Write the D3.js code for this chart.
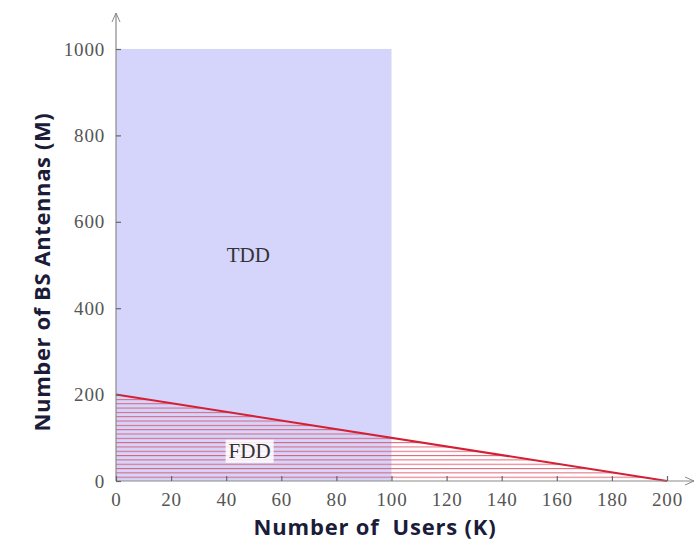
<!DOCTYPE html>
<html>
<head>
<meta charset="utf-8">
<script src="https://cdn.jsdelivr.net/npm/d3@7"></script>
<style>
  html, body { margin: 0; padding: 0; background: #fff; }
  svg { display: block; }
</style>
</head>
<body>
<svg id="chart" width="699" height="548"></svg>
<script>
// ---- data ----
const xTicks = [0, 20, 40, 60, 80, 100, 120, 140, 160, 180, 200];
const yTicks = [0, 200, 400, 600, 800, 1000];
const tddRegion = [{x: 0, y: 0}, {x: 100, y: 0}, {x: 100, y: 1000}, {x: 0, y: 1000}];
const boundary = [{x: 0, y: 200}, {x: 200, y: 0}];
const fddRegion = [{x: 0, y: 0}, {x: 0, y: 200}, {x: 200, y: 0}];
const regionLabels = [{text: "TDD", x: 48, y: 522}, {text: "FDD", x: 48.5, y: 70}];
const xTitle = "Number of  Users (K)";
const yTitle = "Number of BS Antennas (M)";

// ---- layout ----
const svg = d3.select("#chart");
const x = d3.scaleLinear().domain([0, 200]).range([116, 667]);
const y = d3.scaleLinear().domain([0, 1000]).range([481, 49]);

const defs = svg.append("defs");
const pat = defs.append("pattern")
  .attr("id", "hatch").attr("patternUnits", "userSpaceOnUse")
  .attr("width", 10).attr("height", 4.32).attr("y", y(0));
pat.append("line").attr("x1", 0).attr("x2", 10).attr("y1", 0.5).attr("y2", 0.5)
  .attr("stroke", "#d9475e").attr("stroke-opacity", 0.8).attr("stroke-width", 1.1);
defs.append("marker").attr("id", "arrow").attr("viewBox", "0 0 10 10")
  .attr("refX", 9).attr("refY", 5).attr("markerWidth", 10).attr("markerHeight", 10)
  .attr("markerUnits", "userSpaceOnUse").attr("orient", "auto")
  .append("path").attr("d", "M0,1 L9,5 L0,9").attr("fill", "none")
  .attr("stroke", "#888").attr("stroke-width", 1);

const area = d3.line().x(d => x(d.x)).y(d => y(d.y)).curve(d3.curveLinearClosed);
const line = d3.line().x(d => x(d.x)).y(d => y(d.y));

// TDD region
svg.append("path").datum(tddRegion).attr("d", area).attr("fill", "#d5d5fb");
// FDD hatched region
svg.append("path").datum(fddRegion).attr("d", area).attr("fill", "url(#hatch)");
// boundary
svg.append("path").datum(boundary).attr("d", line)
  .attr("fill", "none").attr("stroke", "#d42035").attr("stroke-width", 2);

// axes
const axisColor = "#8a8a8a";
svg.append("line").attr("x1", x(0)).attr("x2", x(0)).attr("y1", y(0)).attr("y2", 13)
  .attr("stroke", axisColor).attr("stroke-width", 1.2).attr("marker-end", "url(#arrow)");
svg.append("line").attr("x1", x(0)).attr("x2", 694).attr("y1", y(0)).attr("y2", y(0))
  .attr("stroke", axisColor).attr("stroke-width", 1.2).attr("marker-end", "url(#arrow)");

const tickFont = g => g.selectAll(".tick text").attr("fill", "#555")
  .attr("font-family", "Liberation Serif, serif").attr("font-size", 19).attr("letter-spacing", 0.8);

const xAxis = d3.axisBottom(x).tickValues(xTicks).tickSize(-5).tickPadding(12).tickFormat(d3.format("d"));
const gx = svg.append("g").attr("transform", `translate(0,${y(0)})`).call(xAxis);
gx.select(".domain").remove();
gx.selectAll(".tick line").attr("stroke", "#666").attr("stroke-width", 1.2);
gx.call(tickFont);

const yAxis = d3.axisLeft(y).tickValues(yTicks).tickSize(-5).tickPadding(11).tickFormat(d3.format("d"));
const gy = svg.append("g").attr("transform", `translate(${x(0)},0)`).call(yAxis);
gy.select(".domain").remove();
gy.selectAll(".tick line").attr("stroke", "#666").attr("stroke-width", 1.2);
gy.call(tickFont);

// region labels
regionLabels.forEach(l => {
  const cx = x(l.x), cy = y(l.y);
  if (l.text === "FDD") {
    svg.append("rect").attr("x", cx - 24).attr("y", cy - 11).attr("width", 48).attr("height", 23)
      .attr("fill", "#fff").attr("fill-opacity", 0.85);
  }
  svg.append("text").attr("x", cx).attr("y", cy).attr("text-anchor", "middle")
    .attr("dominant-baseline", "central").attr("font-family", "Liberation Serif, serif")
    .attr("font-size", 21).attr("fill", "#333").text(l.text);
});

// axis titles
svg.append("text").attr("x", 375).attr("y", 535).attr("text-anchor", "middle")
  .attr("font-family", "Open Sans, sans-serif").attr("font-weight", "bold")
  .attr("font-size", 22).attr("letter-spacing", 0.8).attr("fill", "#1b1b3a")
  .style("white-space", "pre").text(xTitle);
svg.append("text").attr("transform", "translate(50,272) rotate(-90)").attr("text-anchor", "middle")
  .attr("font-family", "Open Sans, sans-serif").attr("font-weight", "bold")
  .attr("font-size", 22).attr("letter-spacing", 0.6).attr("fill", "#1b1b3a").text(yTitle);
</script>
</body>
</html>
